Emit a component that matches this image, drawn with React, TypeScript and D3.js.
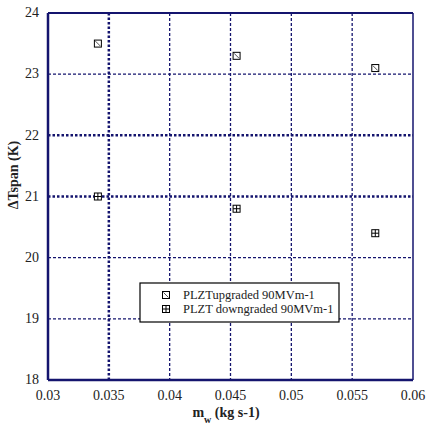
import React from "react";
import * as d3 from "d3";

const xTicks = [0.03, 0.035, 0.04, 0.045, 0.05, 0.055, 0.06];
const yTicks = [18, 19, 20, 21, 22, 23, 24];
const upgradedX = [0.0341, 0.0455, 0.0569];
const upgradedY = [23.5, 23.3, 23.1];
const downgradedX = [0.0341, 0.0455, 0.0569];
const downgradedY = [21.0, 20.8, 20.4];
const seriesNames = ["PLZTupgraded 90MVm-1", "PLZT downgraded 90MVm-1"];
const thickX = [0.035];
const thickY = [21, 22];

const W = 432, H = 433;
const L = 48, R = 413, T = 13, B = 380;
const NAVY = "#14146e";
const FONT = "'Liberation Serif', 'Times New Roman', serif";

export default function App() {
  const x = d3.scaleLinear().domain([0.03, 0.06]).range([L, R]);
  const y = d3.scaleLinear().domain([18, 24]).range([B, T]);
  const s = 7;
  const ts = { fontFamily: FONT } as React.CSSProperties;

  const upMarker = (cx: number, cy: number, k: string) => (
    <g key={k}>
      <rect x={cx - s / 2} y={cy - s / 2} width={s} height={s} fill="white" stroke="black" strokeWidth={1} />
      <line x1={cx - s / 2 + 1} y1={cy - s / 2 + 1} x2={cx + s / 2 - 1} y2={cy + s / 2 - 1} stroke="#555" strokeWidth={1} />
    </g>
  );
  const downMarker = (cx: number, cy: number, k: string) => (
    <g key={k}>
      <rect x={cx - s / 2} y={cy - s / 2} width={s} height={s} fill="white" stroke="black" strokeWidth={1} />
      <line x1={cx} y1={cy - s / 2} x2={cx} y2={cy + s / 2} stroke="black" strokeWidth={1} />
      <line x1={cx - s / 2} y1={cy} x2={cx + s / 2} y2={cy} stroke="black" strokeWidth={1} />
    </g>
  );

  return (
    <svg width={W} height={H} style={{ position: "absolute", left: 0, top: 0, background: "white", fontFamily: FONT }}>
      <rect x={0} y={0} width={W} height={H} fill="white" />
      {xTicks.slice(1, -1).map((t) => {
        const thick = thickX.includes(t);
        return (
          <line key={"gx" + t} x1={x(t)} x2={x(t)} y1={T} y2={B} stroke={NAVY}
            strokeWidth={thick ? 2.5 : 1.3} strokeDasharray={thick ? "2.5,2" : "3,2"} />
        );
      })}
      {yTicks.slice(1, -1).map((t) => {
        const thick = thickY.includes(t);
        return (
          <line key={"gy" + t} x1={L} x2={R} y1={y(t)} y2={y(t)} stroke={NAVY}
            strokeWidth={thick ? 2.5 : 1.3} strokeDasharray={thick ? "2.5,2" : "3,2"} />
        );
      })}
      <line x1={L} x2={L} y1={T} y2={B} stroke={NAVY} strokeWidth={2.5} />
      <line x1={L} x2={R} y1={B} y2={B} stroke={NAVY} strokeWidth={2.5} />
      <line x1={L} x2={R} y1={T} y2={T} stroke={NAVY} strokeWidth={2} />
      <line x1={R} x2={R} y1={T} y2={B} stroke={NAVY} strokeWidth={1.5} />
      {yTicks.map((t) => (
        <text key={"ty" + t} style={ts} x={39} y={y(t)} dy="0.3em" textAnchor="end" fontSize={14} fill="#222">{t}</text>
      ))}
      {xTicks.map((t) => (
        <text key={"tx" + t} style={ts} x={x(t)} y={400} textAnchor="middle" fontSize={14} fill="#222">{String(t)}</text>
      ))}
      <text style={ts} x={0} y={0} transform={`translate(18,175) rotate(-90)`} textAnchor="middle" fontSize={14} fontWeight="bold" fill="#222">ΔTspan (K)</text>
      <text style={ts} x={226} y={417} textAnchor="middle" fontSize={14} fontWeight="bold" fill="#222">
        m<tspan fontSize={10} dy={6}>w</tspan><tspan dy={-6}> (kg s-1)</tspan>
      </text>
      {upgradedX.map((v, i) => upMarker(x(v), y(upgradedY[i]), "u" + i))}
      {downgradedX.map((v, i) => downMarker(x(v), y(downgradedY[i]), "d" + i))}
      <rect x={140} y={283} width={199} height={39} fill="white" stroke="black" strokeWidth={1.2} />
      {upMarker(166, 295, "lu")}
      {downMarker(166, 309, "ld")}
      <text style={ts} x={183} y={295} dy="0.35em" fontSize={12.5} fill="#222">{seriesNames[0]}</text>
      <text style={ts} x={183} y={309} dy="0.35em" fontSize={12.5} fill="#222">{seriesNames[1]}</text>
    </svg>
  );
}
